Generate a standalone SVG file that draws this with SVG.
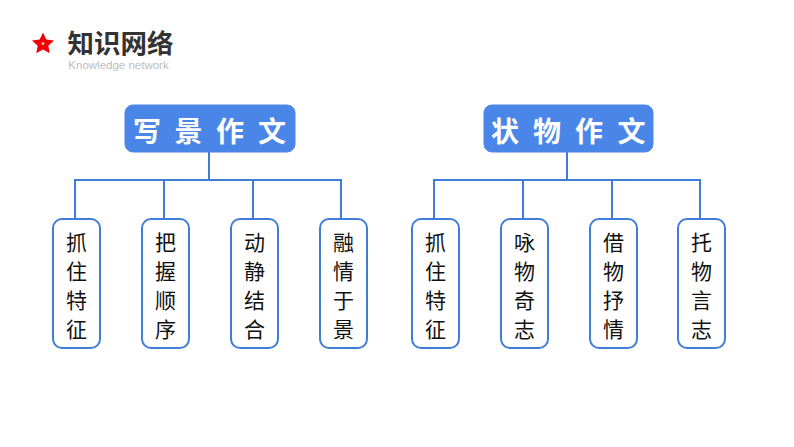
<svg xmlns="http://www.w3.org/2000/svg" width="794" height="447" viewBox="0 0 794 447">
<style>
text{font-family:"Noto Sans CJK SC","Liberation Sans",sans-serif;text-anchor:middle}
.h rect{fill:#4a86e8;stroke:#4a86e8;stroke-width:1}
.h text{fill:#fff;font-size:28px;font-weight:700;text-anchor:start}
.l rect{fill:#fff;stroke:#3f7dd6;stroke-width:2}
.l text{fill:#111;font-size:21px}
#connectors path{fill:none;stroke:#3f7dd6;stroke-width:2}
</style>
<rect width="794" height="447" fill="#fff"/>
<g id="title">
<polygon points="43,32.500 46.300,39.500 54,40.400 48.300,45.700 49.800,53.300 43,49.500 36.200,53.300 37.700,45.700 32,40.400 39.700,39.500" fill="#f00000"/>
<circle cx="43" cy="43.500" r="1.500" fill="#ffb0a0"/>
<text x="120.500" y="53" style="font-size:26.500px;font-weight:700;fill:#333">知识网络</text>
<text x="118.500" y="69" style="font-family:'Liberation Sans',sans-serif;font-size:11.500px;fill:#bdbdbd">Knowledge network</text>
</g>
<g id="connectors">
<path d="M209 152V180M75 219V180H341V219M164 180V219M253 180V219"/>
<path d="M567 152V180M434 219V180H700V219M523 180V219M612 180V219"/>
</g>
<g id="h1" class="h"><rect x="125" y="105" width="170" height="47" rx="8"/><text x="133 174.500 216 258" y="142">写景作文</text></g>
<g id="h2" class="h"><rect x="484" y="105" width="169" height="47" rx="8"/><text x="491 533 575 617.500" y="142">状物作文</text></g>
<g id="n1" class="l"><rect x="53" y="219" width="47" height="129" rx="9"/><text x="76.500" y="250">抓</text><text x="76.500" y="279">住</text><text x="76.500" y="308">特</text><text x="76.500" y="337">征</text></g>
<g id="n2" class="l"><rect x="142" y="219" width="47" height="129" rx="9"/><text x="165.500" y="250">把</text><text x="165.500" y="279">握</text><text x="165.500" y="308">顺</text><text x="165.500" y="337">序</text></g>
<g id="n3" class="l"><rect x="231" y="219" width="47" height="129" rx="9"/><text x="254.500" y="250">动</text><text x="254.500" y="279">静</text><text x="254.500" y="308">结</text><text x="254.500" y="337">合</text></g>
<g id="n4" class="l"><rect x="320" y="219" width="47" height="129" rx="9"/><text x="343.500" y="250">融</text><text x="343.500" y="279">情</text><text x="343.500" y="308">于</text><text x="343.500" y="337">景</text></g>
<g id="n5" class="l"><rect x="412" y="219" width="47" height="129" rx="9"/><text x="435.500" y="250">抓</text><text x="435.500" y="279">住</text><text x="435.500" y="308">特</text><text x="435.500" y="337">征</text></g>
<g id="n6" class="l"><rect x="501" y="219" width="47" height="129" rx="9"/><text x="524.500" y="250">咏</text><text x="524.500" y="279">物</text><text x="524.500" y="308">奇</text><text x="524.500" y="337">志</text></g>
<g id="n7" class="l"><rect x="590" y="219" width="47" height="129" rx="9"/><text x="613.500" y="250">借</text><text x="613.500" y="279">物</text><text x="613.500" y="308">抒</text><text x="613.500" y="337">情</text></g>
<g id="n8" class="l"><rect x="678" y="219" width="47" height="129" rx="9"/><text x="701.500" y="250">托</text><text x="701.500" y="279">物</text><text x="701.500" y="308">言</text><text x="701.500" y="337">志</text></g>
</svg>
